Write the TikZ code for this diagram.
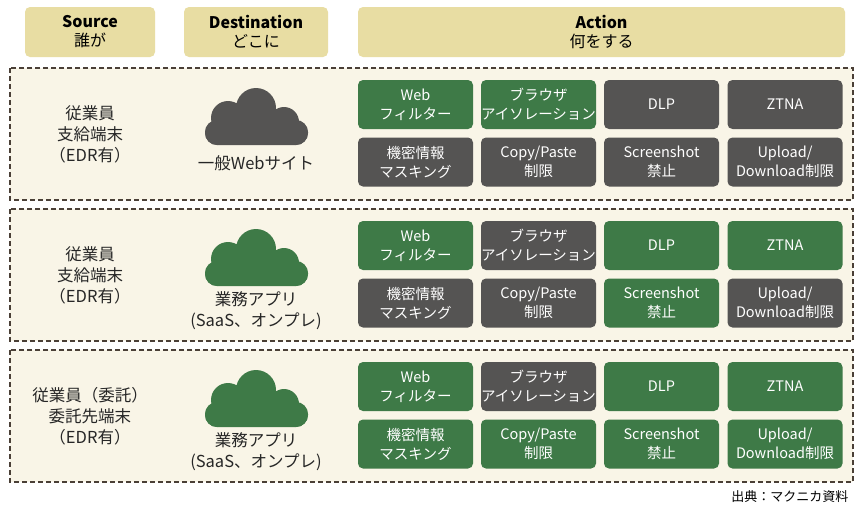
\documentclass[tikz,border=0pt]{standalone}
\usepackage{fontspec}
\setmainfont{Noto Sans CJK JP}
\begin{document}
\begin{tikzpicture}[x=1pt,y=-1pt,
  hdr/.style={fill=hdrc,rounded corners=5pt,align=center,font=\fontsize{16}{19}\selectfont,inner sep=0pt},
  panel/.style={draw=edge,dash pattern=on 5pt off 3pt,line width=1.5pt,fill=panelc},
  abox/.style={rounded corners=5pt,minimum width=115pt,minimum height=49pt,align=center,text=white,font=\fontsize{14.5}{19}\selectfont,inner sep=0pt},
  G/.style={abox,fill=grn}, D/.style={abox,fill=gry},
  lbl/.style={align=center,font=\fontsize{16.5}{21}\selectfont,text=black!85}]
\definecolor{hdrc}{HTML}{E8DDA3}
\definecolor{panelc}{HTML}{F9F5E7}
\definecolor{edge}{HTML}{4A3F36}
\definecolor{grn}{HTML}{3E7A47}
\definecolor{gry}{HTML}{555453}
\useasboundingbox (0,0) rectangle (860,514);
\fill[white] (0,0) rectangle (860,514);
\node[hdr,minimum width=130pt,minimum height=50pt] (h1) at (90,32) {\textbf{Source}\\誰が};
\node[hdr,minimum width=144pt,minimum height=50pt] (h2) at (256,32) {\textbf{Destination}\\どこに};
\node[hdr,minimum width=487pt,minimum height=50pt] (h3) at (601.5,32) {\textbf{Action}\\何をする};
\newcommand{\cloud}[3]{% x y color
  \begin{scope}[shift={(#1,#2)}]
   \fill[#3] (228,118) circle (17) (256,108) circle (20) (284,122) circle (15)
     (217,133) circle (12) (296,133) circle (12);
   \fill[#3,rounded corners=12pt] (205,120) rectangle (308,145);
  \end{scope}}
\foreach \p/\y in {1/68,2/209,3/350}{
  \draw[panel] (10,\y) rectangle (853,\y+132);
}
\node[lbl] (s1) at (90,134) {従業員\\支給端末\\（EDR有）};
\cloud{0}{0}{gry}
\node[lbl] (d1) at (256,163) {一般Webサイト};
\node[lbl] (s2) at (90,275) {従業員\\支給端末\\（EDR有）};
\cloud{0}{141}{grn}
\node[lbl] (d2) at (256,311) {業務アプリ\\(SaaS、オンプレ)};
\node[lbl] (s3) at (90,416) {従業員（委託）\\委託先端末\\（EDR有）};
\cloud{0}{282}{grn}
\node[lbl] (d3) at (256,452) {業務アプリ\\(SaaS、オンプレ)};
\foreach \p/\yo/\ca/\cb/\cc/\cd/\ce/\cf/\cg/\ch in {1/0/G/G/D/D/D/D/D/D,2/141/G/D/G/G/D/D/G/D,3/282/G/D/G/G/G/G/G/G}{
  \node[\ca] (a\p1) at (415.5,104.5+\yo) {Web\\フィルター};
  \node[\cb] (a\p2) at (538.5,104.5+\yo) {ブラウザ\\アイソレーション};
  \node[\cc] (a\p3) at (661.5,104.5+\yo) {DLP};
  \node[\cd] (a\p4) at (785,104.5+\yo) {ZTNA};
  \node[\ce] (b\p1) at (415.5,162+\yo) {機密情報\\マスキング};
  \node[\cf] (b\p2) at (538.5,162+\yo) {Copy/Paste\\制限};
  \node[\cg] (b\p3) at (661.5,162+\yo) {Screenshot\\禁止};
  \node[\ch] (b\p4) at (785,162+\yo) {Upload/\\Download制限};
}
\node[font=\fontsize{13}{15}\selectfont,anchor=east] (src) at (852,497) {出典：マクニカ資料};
\end{tikzpicture}
\end{document}
